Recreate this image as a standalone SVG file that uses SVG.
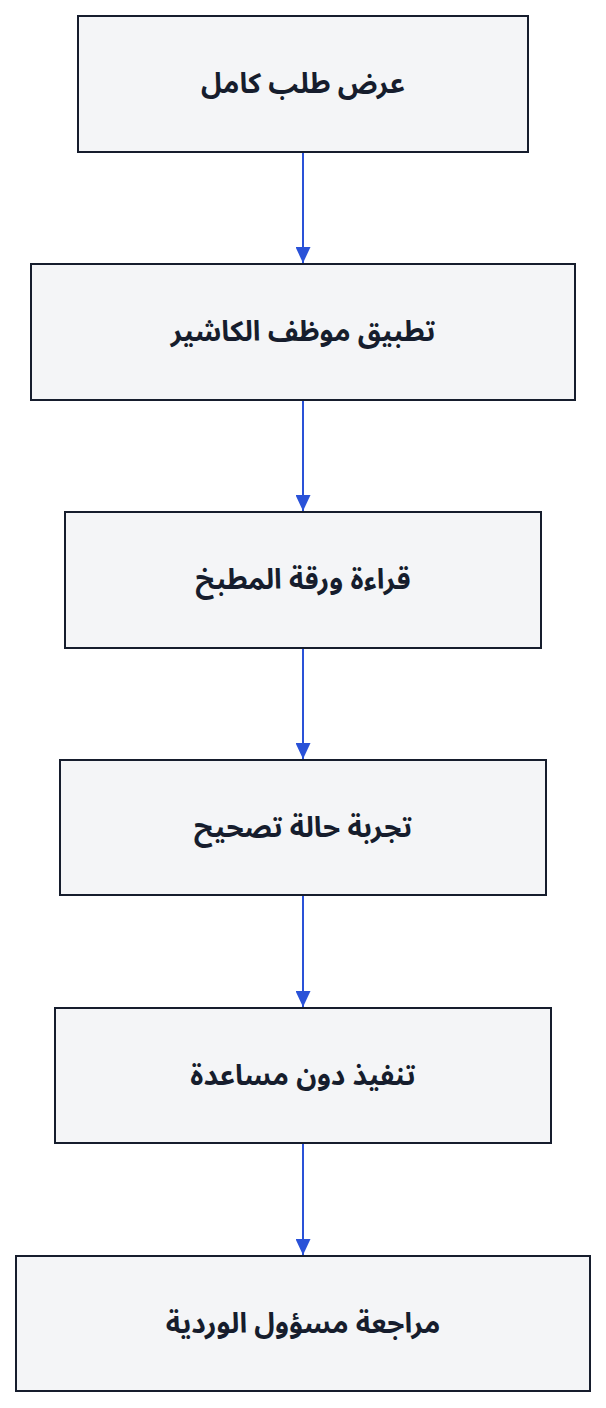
<svg xmlns="http://www.w3.org/2000/svg" width="606" height="1408" viewBox="0 0 606 1408">
<style>
.node rect{fill:#f4f5f7;stroke:#161d2d;stroke-width:2}
.node text{font-family:"Noto Sans Arabic","Noto Sans","DejaVu Sans",sans-serif;font-size:28px;font-weight:bold;fill:#161d2d;text-anchor:middle;dominant-baseline:central}
.edge{stroke:#2a52d8;stroke-width:2;fill:none}
</style>
<defs>
<marker id="arr" markerWidth="16" markerHeight="15" refX="16" refY="7.5" orient="auto" markerUnits="userSpaceOnUse" viewBox="0 0 16 15">
<path d="M0,0 L16,7.5 L0,15 Z" fill="#2a52d8"/>
</marker>
</defs>
<rect width="606" height="1408" fill="#ffffff"/>
<g id="connectors">
<line class="edge" x1="303" y1="152" x2="303" y2="263" marker-end="url(#arr)"/>
<line class="edge" x1="303" y1="400" x2="303" y2="511" marker-end="url(#arr)"/>
<line class="edge" x1="303" y1="648" x2="303" y2="759" marker-end="url(#arr)"/>
<line class="edge" x1="303" y1="895" x2="303" y2="1007" marker-end="url(#arr)"/>
<line class="edge" x1="303" y1="1143" x2="303" y2="1255" marker-end="url(#arr)"/>
</g>
<g id="n1" class="node"><rect x="78" y="16" width="450" height="136"/><text x="303" y="84" direction="rtl">عرض طلب كامل</text></g>
<g id="n2" class="node"><rect x="31" y="264" width="544" height="136"/><text x="303" y="332" direction="rtl">تطبيق موظف الكاشير</text></g>
<g id="n3" class="node"><rect x="65" y="512" width="476" height="136"/><text x="303" y="580" direction="rtl">قراءة ورقة المطبخ</text></g>
<g id="n4" class="node"><rect x="60" y="760" width="486" height="135"/><text x="303" y="828" direction="rtl">تجربة حالة تصحيح</text></g>
<g id="n5" class="node"><rect x="55" y="1008" width="496" height="135"/><text x="303" y="1076" direction="rtl">تنفيذ دون مساعدة</text></g>
<g id="n6" class="node"><rect x="16" y="1256" width="574" height="135"/><text x="303" y="1324" direction="rtl">مراجعة مسؤول الوردية</text></g>
</svg>
